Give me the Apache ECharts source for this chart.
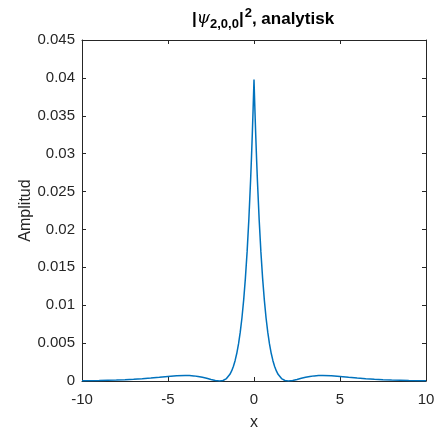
<!DOCTYPE html>
<html>
<head>
<meta charset="utf-8">
<script src="https://cdn.jsdelivr.net/npm/echarts@6/dist/echarts.min.js"></script>
<style>html,body{margin:0;padding:0;background:#fff}#c{width:435px;height:429px}</style>
</head>
<body>
<div id="c"></div>
<script>
const xValues = [-10,-9,-8,-7.5,-7,-6.5,-6,-5.5,-5,-4.5,-4,-3.75,-3.5,-3.25,-3,-2.75,-2.5,-2.25,-2,-1.8,-1.6,-1.4,-1.3,-1.2,-1.1,-1,-0.9,-0.8,-0.7,-0.6,-0.5,-0.4,-0.3,-0.2,-0.15,-0.1,-0.05,0,
  0.05,0.1,0.15,0.2,0.3,0.4,0.5,0.6,0.7,0.8,0.9,1,1.1,1.2,1.3,1.4,1.6,1.8,2,2.25,2.5,2.75,3,3.25,3.5,3.75,4,4.5,5,5.5,6,6.5,7,7.5,8,9,10];
const amplitude = [0.000029,0.000060,0.000120,0.000166,0.000227,0.000303,0.000395,0.000498,0.000603,0.000691,0.000729,0.000716,0.000676,0.000603,0.000495,0.000358,0.000204,0.000066,0,0.000066,0.00032,0.00088,0.00133,0.00192,0.00268,0.00366,0.00489,0.00644,0.00835,0.01070,0.01357,0.01707,0.02130,0.02639,0.02930,0.03249,0.03598,0.03979,
  0.03598,0.03249,0.02930,0.02639,0.02130,0.01707,0.01357,0.01070,0.00835,0.00644,0.00489,0.00366,0.00268,0.00192,0.00133,0.00088,0.00032,0.000066,0,0.000066,0.000204,0.000358,0.000495,0.000603,0.000676,0.000716,0.000729,0.000691,0.000603,0.000498,0.000395,0.000303,0.000227,0.000166,0.000120,0.000060,0.000029];
const xTicks = {min:-10, max:10, interval:5};
const yTicks = {min:0, max:0.045, interval:0.005};

const data = xValues.map((x,i)=>[x, amplitude[i]]);
const font = '"Liberation Sans", Arial, Helvetica, sans-serif';
const ink = '#262626';
const chart = echarts.init(document.getElementById('c'), null, {renderer:'canvas'});
const axisCommon = {
  axisLine:{show:true, onZero:false, lineStyle:{color:ink, width:1}},
  axisTick:{show:true, inside:true, length:4, lineStyle:{color:ink, width:1}},
  splitLine:{show:false}
};
chart.setOption({
  animation:false,
  backgroundColor:'#ffffff',
  title:{
    text:'{bar|\u007C}{psi|\u03C8}{sub|2,0,0}{bar|\u007C}{sup|2}{t|, analytisk}',
    left:258, textAlign:'center', top:2,
    textStyle:{
      rich:{
        bar:{fontFamily:font, fontSize:17, fontWeight:'bold', color:'#000'},
        psi:{fontFamily:'"DejaVu Serif", serif', fontStyle:'italic', fontWeight:'normal', fontSize:17, color:'#000'},
        sub:{fontFamily:font, fontSize:13, fontWeight:'bold', color:'#000', verticalAlign:'bottom', padding:[11,0,0,0]},
        sup:{fontFamily:font, fontSize:13, fontWeight:'bold', color:'#000', verticalAlign:'top', padding:[0,0,10,1]},
        t:{fontFamily:font, fontSize:17, fontWeight:'bold', color:'#000'}
      }
    }
  },
  grid:{left:82, right:9, top:40, bottom:48, containLabel:false, outerBoundsMode:'none'},
  xAxis:[
    Object.assign({type:'value', min:xTicks.min, max:xTicks.max, interval:xTicks.interval, position:'bottom',
      name:'x', nameLocation:'middle', nameGap:34, nameTextStyle:{fontFamily:font, fontSize:16, color:ink},
      axisLabel:{fontFamily:font, fontSize:15, color:ink, margin:11}}, axisCommon),
    Object.assign({type:'value', min:xTicks.min, max:xTicks.max, interval:xTicks.interval, position:'top',
      axisLabel:{show:false}}, axisCommon)
  ],
  yAxis:[
    Object.assign({type:'value', min:yTicks.min, max:yTicks.max, interval:yTicks.interval, position:'left',
      name:'Amplitud', nameLocation:'middle', nameGap:48, nameMoveOverlap:false, nameRotate:90, nameTextStyle:{fontFamily:font, fontSize:16, color:ink},
      axisLabel:{fontFamily:font, fontSize:15, color:ink, margin:7, formatter:v=>String(+v.toFixed(3))}}, axisCommon),
    Object.assign({type:'value', min:yTicks.min, max:yTicks.max, interval:yTicks.interval, position:'right',
      axisLabel:{show:false}}, axisCommon)
  ],
  series:[{
    type:'line', data:data, xAxisIndex:0, yAxisIndex:0, showSymbol:false, smooth:false,
    lineStyle:{color:'#0072BD', width:1.5}
  }]
});
</script>
</body>
</html>
